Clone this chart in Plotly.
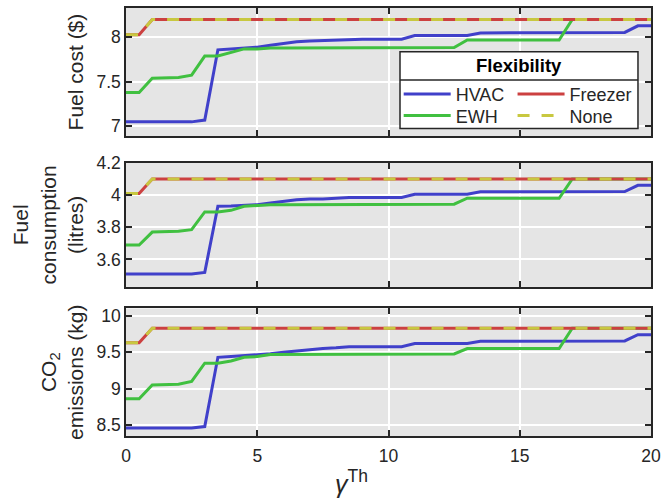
import plotly.graph_objects as go
from plotly.subplots import make_subplots

gamma = [0, 0.5, 1, 1.5, 2, 2.5, 3, 3.5, 4, 4.5, 5, 5.5, 6, 6.5, 7, 7.5, 8, 8.5, 9, 9.5,
         10, 10.5, 11, 11.5, 12, 12.5, 13, 13.5, 14, 14.5, 15, 15.5, 16, 16.5, 17, 17.5,
         18, 18.5, 19, 19.5, 20]

# Fuel cost ($)
cost_hvac = [7.05, 7.05, 7.05, 7.05, 7.05, 7.05, 7.07, 7.86, 7.87, 7.88, 7.89, 7.91, 7.93, 7.95,
             7.96, 7.965, 7.97, 7.98, 7.98, 7.98, 7.98, 7.98, 8.02, 8.02, 8.02, 8.02, 8.02, 8.05,
             8.05, 8.05, 8.05, 8.05, 8.05, 8.05, 8.05, 8.055, 8.055, 8.055, 8.055, 8.13, 8.13]
cost_ewh = [7.38, 7.38, 7.54, 7.545, 7.55, 7.575, 7.79, 7.79, 7.83, 7.87, 7.87, 7.88, 7.88, 7.88,
            7.88, 7.882, 7.884, 7.885, 7.885, 7.885, 7.885, 7.885, 7.885, 7.885, 7.885, 7.885, 7.97,
            7.97, 7.97, 7.97, 7.97, 7.97, 7.97, 7.97, 8.2, 8.2, 8.2, 8.2, 8.2, 8.2, 8.2]
cost_freezer = [8.03, 8.03] + [8.2] * 39
cost_none = [8.03, 8.03] + [8.2] * 39

# Fuel consumption (litres)
fuel_hvac = [3.51, 3.51, 3.51, 3.51, 3.51, 3.51, 3.52, 3.93, 3.932, 3.935, 3.94, 3.95, 3.96, 3.97,
             3.975, 3.975, 3.98, 3.985, 3.985, 3.985, 3.985, 3.985, 4.005, 4.005, 4.005, 4.005, 4.005,
             4.02, 4.02, 4.02, 4.02, 4.02, 4.02, 4.02, 4.02, 4.022, 4.022, 4.022, 4.022, 4.06, 4.06]
fuel_ewh = [3.69, 3.69, 3.77, 3.773, 3.775, 3.785, 3.895, 3.895, 3.905, 3.93, 3.935, 3.94, 3.94,
            3.94, 3.94, 3.942, 3.943, 3.943, 3.943, 3.943, 3.943, 3.943, 3.943, 3.943, 3.943, 3.943,
            3.98, 3.98, 3.98, 3.98, 3.98, 3.98, 3.98, 3.98, 4.1, 4.1, 4.1, 4.1, 4.1, 4.1, 4.1]
fuel_freezer = [4.01, 4.01] + [4.1] * 39
fuel_none = [4.01, 4.01] + [4.1] * 39

# CO2 emissions (kg)
co2_hvac = [8.46, 8.46, 8.46, 8.46, 8.46, 8.46, 8.48, 9.43, 9.44, 9.45, 9.46, 9.48, 9.50, 9.52,
            9.54, 9.55, 9.56, 9.575, 9.575, 9.575, 9.575, 9.575, 9.62, 9.62, 9.62, 9.62, 9.62,
            9.65, 9.65, 9.65, 9.65, 9.65, 9.65, 9.65, 9.65, 9.655, 9.655, 9.655, 9.655, 9.74, 9.74]
co2_ewh = [8.86, 8.86, 9.05, 9.055, 9.06, 9.10, 9.35, 9.35, 9.38, 9.43, 9.44, 9.47, 9.47, 9.47,
           9.47, 9.47, 9.475, 9.477, 9.477, 9.477, 9.477, 9.477, 9.477, 9.477, 9.477, 9.477, 9.55,
           9.55, 9.55, 9.55, 9.55, 9.55, 9.55, 9.55, 9.83, 9.83, 9.83, 9.83, 9.83, 9.83, 9.83]
co2_freezer = [9.63, 9.63] + [9.83] * 39
co2_none = [9.63, 9.63] + [9.83] * 39

series_names = ["HVAC", "EWH", "Freezer", "None"]
x_ticks = [0, 5, 10, 15, 20]
y_ticks = [[7, 7.5, 8], [3.6, 3.8, 4, 4.2], [8.5, 9, 9.5, 10]]
y_titles = ["Fuel cost ($)", "Fuel<br>consumption<br>(litres)", "CO<sub>2</sub><br>emissions (kg)"]
y_ranges = [[6.89, 8.33], [3.43, 4.2], [8.35, 10.1]]

colors = {"HVAC": "#4040CA", "EWH": "#40C040", "Freezer": "#CC4040", "None": "#C8C840"}
dashes = {"HVAC": "solid", "EWH": "solid", "Freezer": "solid", "None": "12px,12px"}
# one legend per slot: 2 columns x 2 rows (HVAC | Freezer / EWH | None)
legend_of = {"HVAC": "legend", "Freezer": "legend2", "EWH": "legend3", "None": "legend4"}

panels = [
    [cost_hvac, cost_ewh, cost_freezer, cost_none],
    [fuel_hvac, fuel_ewh, fuel_freezer, fuel_none],
    [co2_hvac, co2_ewh, co2_freezer, co2_none],
]

FONT = "Liberation Sans"
TXT = "#262626"

fig = make_subplots(rows=3, cols=1, shared_xaxes=True)

for r, vals in enumerate(panels, start=1):
    for name, y in zip(series_names, vals):
        fig.add_trace(go.Scatter(
            x=gamma, y=y, mode="lines", name=name,
            line=dict(color=colors[name], width=3, dash=dashes[name]),
            showlegend=(r == 1), legend=legend_of[name],
        ), row=r, col=1)

domains = [[0.7007, 1.0], [0.3484, 0.6383], [0.0, 0.2979]]
axis_common = dict(
    showline=True, linecolor=TXT, linewidth=1.5, mirror="ticks",
    ticks="inside", ticklen=6, tickwidth=1.5, tickcolor=TXT,
    showgrid=True, gridcolor="white", gridwidth=1.5, zeroline=False,
    tickfont=dict(family=FONT, size=17.5, color=TXT), automargin=False,
)
for r in range(1, 4):
    fig.update_xaxes(range=[0, 20], tickvals=x_ticks, showticklabels=(r == 3),
                     ticklabelstandoff=3, row=r, col=1, **axis_common)
    fig.update_yaxes(range=y_ranges[r - 1], tickvals=y_ticks[r - 1], domain=domains[r - 1],
                     title=dict(text=y_titles[r - 1], standoff=7,
                                font=dict(family=FONT, size=21, color=TXT)),
                     row=r, col=1, **axis_common)

# legend box geometry (paper coords)
bx0, bx1 = 0.5219, 0.9752
by0, by1 = 0.7187, 0.8978
sep_y = 0.8317
col_x = [0.5194, 0.7363]
row_y = [0.7982, 0.7482]

def leg(x, y):
    return dict(x=x, xanchor="left", y=y, yanchor="middle",
                bgcolor="rgba(0,0,0,0)", borderwidth=0, itemwidth=47,
                font=dict(family=FONT, size=18, color=TXT), tracegroupgap=0)

fig.update_layout(
    width=662, height=501,
    margin=dict(l=126, r=11, t=8, b=65),
    paper_bgcolor="white", plot_bgcolor="#E5E5E5",
    font=dict(family=FONT, color=TXT),
    legend=leg(col_x[0], row_y[0]),
    legend2=leg(col_x[1], row_y[0]),
    legend3=leg(col_x[0], row_y[1]),
    legend4=leg(col_x[1], row_y[1]),
    shapes=[
        dict(type="rect", xref="paper", yref="paper", x0=bx0, x1=bx1, y0=by0, y1=by1,
             fillcolor="white", line=dict(color=TXT, width=1.5), layer="above"),
        dict(type="line", xref="paper", yref="paper", x0=bx0, x1=bx1, y0=sep_y, y1=sep_y,
             line=dict(color=TXT, width=1.5), layer="above"),
    ],
    annotations=[
        dict(text="<b>Flexibility</b>", xref="paper", yref="paper", x=(bx0 + bx1) / 2,
             y=(sep_y + by1) / 2, xanchor="center", yanchor="middle", showarrow=False,
             font=dict(family=FONT, size=18.5, color="black")),
        dict(text="<i>γ</i><sup>Th</sup>", xref="paper", yref="paper", x=0.43, y=-0.108,
             xanchor="center", yanchor="middle", showarrow=False,
             font=dict(family=FONT, size=25, color=TXT)),
    ],
)

fig.write_html("out.html", config={"displayModeBar": False},
               post_script="document.body.style.margin='0px';")
